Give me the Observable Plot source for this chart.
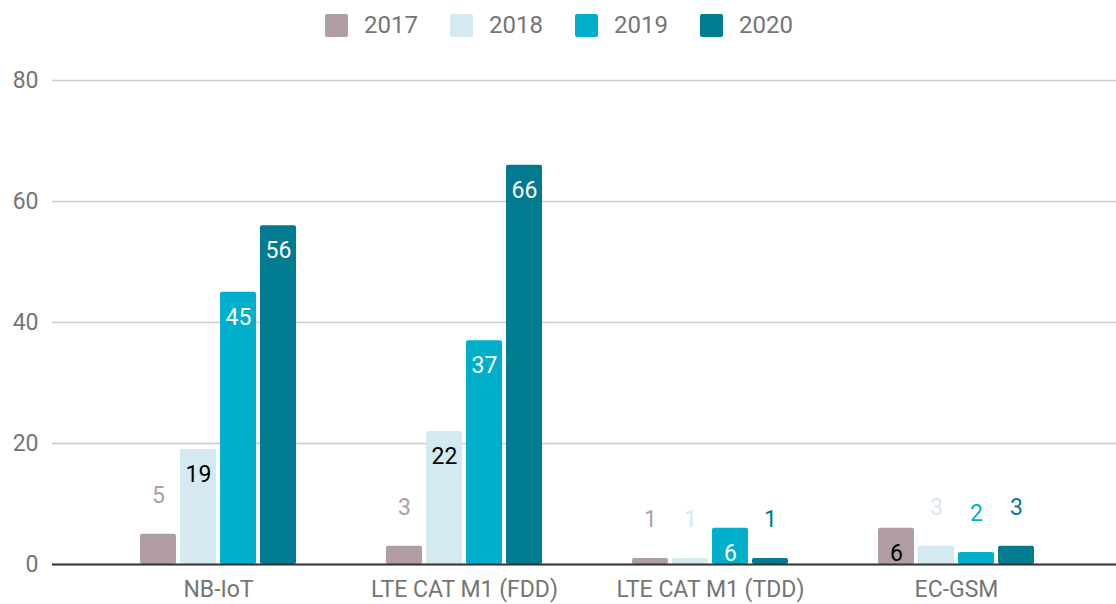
<!DOCTYPE html>
<html>
<head>
<meta charset="utf-8">
<script src="https://cdn.jsdelivr.net/npm/d3@7"></script>
<script src="https://cdn.jsdelivr.net/npm/@observablehq/plot@0.6"></script>
<style>
  html, body { margin: 0; padding: 0; background: #fff; font-family: Roboto, "Noto Sans", sans-serif; }
  #legend { height: 46px; display: flex; justify-content: center; align-items: center; padding-left: 2px; padding-top: 4px; box-sizing: border-box; }
  .item { display: flex; align-items: center; margin: 0 16px; }
  .sw { width: 23px; height: 23px; border-radius: 2px; margin-right: 16px; }
  .lab { font-size: 24px; color: #757575; }
  svg { display: block; }
</style>
</head>
<body>
<div id="legend"></div>
<div id="chart"></div>
<script>
const categories = ["NB-IoT", "LTE CAT M1 (FDD)", "LTE CAT M1 (TDD)", "EC-GSM"];
const years = ["2017", "2018", "2019", "2020"];
const values2017 = [5, 3, 1, 6];
const values2018 = [19, 22, 1, 3];
const values2019 = [45, 37, 6, 2];
const values2020 = [56, 66, 1, 3];
const yTicks = [0, 20, 40, 60, 80];

const colors = ["#b09ea2", "#d4eaf0", "#00b0ca", "#007b8f"];
const insideText = ["#000000", "#000000", "#ffffff", "#ffffff"];
const series = [values2017, values2018, values2019, values2020];

const data = [];
series.forEach((vals, i) => vals.forEach((v, j) => data.push({category: categories[j], year: years[i], yi: i, value: v})));

// legend
const legend = document.getElementById("legend");
years.forEach((y, i) => {
  const it = document.createElement("div");
  it.className = "item";
  it.innerHTML = `<div class="sw" style="background:${colors[i]}"></div><span class="lab">${y}</span>`;
  legend.appendChild(it);
});

const step = 40;
const marks = [
  Plot.gridY(yTicks, {stroke: "#cccccc", strokeOpacity: 1, strokeWidth: 1.5}),
  Plot.axisY(yTicks, {tickSize: 0, tickPadding: 14, fontSize: 23, fill: "#757575", label: null}),
  Plot.axisX({tickSize: 0, tickPadding: 16, fontSize: 23, fill: "#757575", label: null})
];
years.forEach((y, i) => {
  const d = data.filter(r => r.yi === i);
  marks.push(Plot.barY(d, {
    x: "category", y: "value", fill: colors[i], rx: 2,
    insetLeft: 2 + step * i, insetRight: 2 + step * (3 - i)
  }));
});
marks.push(Plot.ruleY([0], {stroke: "#333333", strokeWidth: 2}));
years.forEach((y, i) => {
  const d = data.filter(r => r.yi === i);
  const dx = -60 + step * i;
  marks.push(Plot.text(d.filter(r => r.value >= 6), {
    x: "category", y: "value", text: d => String(d.value), dx, dy: 25,
    fill: insideText[i], fontSize: 23
  }));
  marks.push(Plot.text(d.filter(r => r.value < 6), {
    x: "category", y: "value", text: d => String(d.value), dx, dy: -39,
    fill: colors[i], fontSize: 23
  }));
});

const chart = Plot.plot({
  width: 1116,
  height: 558,
  marginLeft: 52,
  marginRight: 0,
  marginTop: 34,
  marginBottom: 40,
  style: {fontFamily: "Roboto, sans-serif", background: "#fff"},
  x: {domain: categories, paddingInner: 0.35, paddingOuter: 0.3374, align: 0.518, label: null},
  y: {domain: [0, 80], label: null},
  marks
});
document.getElementById("chart").appendChild(chart);
</script>
</body>
</html>
